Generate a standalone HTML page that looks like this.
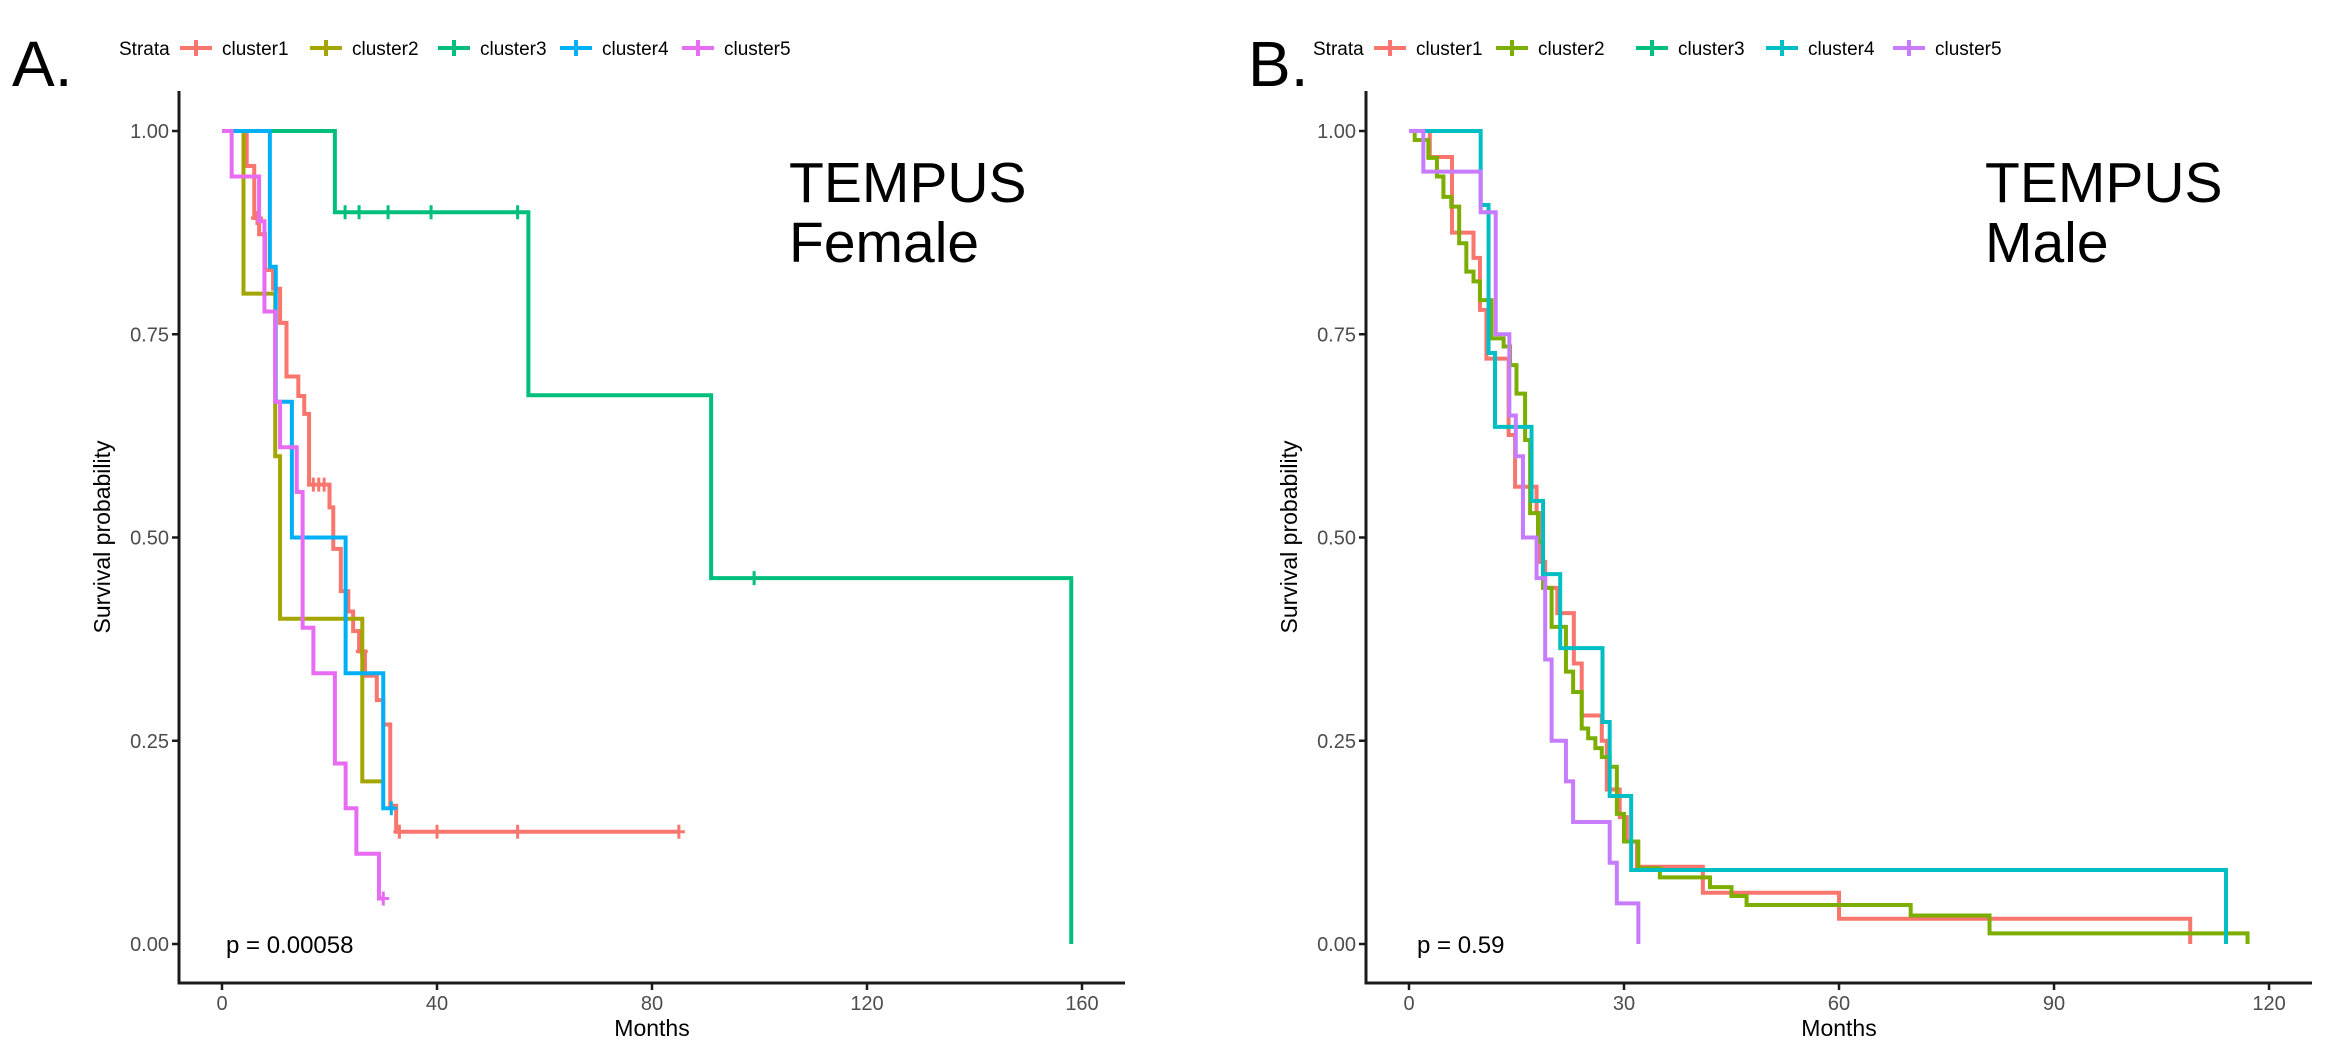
<!DOCTYPE html>
<html><head><meta charset="utf-8"><style>
html,body{margin:0;padding:0;background:#fff;}
svg{display:block;font-family:"Liberation Sans",Arial,sans-serif;}
</style></head><body>
<svg id="chart" width="2331" height="1055" viewBox="0 0 2331 1055"></svg>
<script>
// ---- Panel A data (Female) ----
const aTicksX = [0, 40, 80, 120, 160];
const aC1T = [0,4.6,6,6.9,8,9.5,10.8,12,14.2,15.3,16.2,20,20.7,22.1,23.5,24.4,25.5,26.6,28.8,30,31.3,32.4];
const aC1S = [1,.957,.893,.873,.829,.806,.764,.698,.674,.652,.565,.537,.486,.434,.409,.385,.36,.33,.30,.27,.17,.138];
const aC1Cens = [6.5,17,18,19,26,33,40,55,85];
const aC2T = [0,4,9.9,10.8,26.1];
const aC2S = [1,.8,.6,.4,.2];
const aC2Cens = [];
const aC3T = [0,21,57,91,158];
const aC3S = [1,.9,.675,.45,0];
const aC3Cens = [22.9,25.5,30.9,38.9,55,99];
const aC4T = [0,8.9,10,13,23,30];
const aC4S = [1,.833,.667,.5,.333,.167];
const aC4Cens = [31.5];
const aC5T = [0,1.8,6.9,7.9,9.9,10.8,13.9,15,17,21,23,25,29.2];
const aC5S = [1,.944,.889,.778,.667,.611,.556,.389,.333,.222,.167,.111,.056];
const aC5Cens = [30];
const aEnds = [85, 30, 158, 32, 30];
// ---- Panel B data (Male) ----
const bTicksX = [0, 30, 60, 90, 120];
const bC1T = [0,2.9,6,9,9.9,10.8,13.9,14.8,17.8,18.3,19,20.7,23,24.1,26.9,27.6,29.4,30.4,31.8,41,60,109];
const bC1S = [1,.968,.875,.844,.78,.72,.626,.5625,.53,.47,.438,.407,.345,.281,.25,.19,.156,.126,.095,.063,.031,0];
const bC2T = [0,.8,2.7,3.9,4.8,5.9,7,8,9,9.9,11.5,13.2,14.1,15,16.2,16.9,18,18.7,19.9,21.9,22.9,24.1,25,26,26.9,28,29,30,32,35,42,45,47.1,70,81,117];
const bC2S = [1,.989,.967,.944,.919,.907,.862,.827,.815,.792,.745,.735,.712,.677,.62,.53,.495,.438,.39,.335,.31,.265,.253,.241,.23,.218,.16,.126,.093,.082,.07,.059,.048,.035,.013,0];
const bC4T = [0,10,11.1,12,17.1,18.7,21.1,27,28,31,114];
const bC4S = [1,.909,.727,.636,.545,.455,.364,.273,.182,.091,0];
const bC5T = [0,2,10,12.1,14,14.9,15.9,17.8,19,19.9,21.9,22.9,28,29,32];
const bC5S = [1,.95,.9,.75,.65,.6,.5,.45,.35,.25,.2,.15,.1,.05,0];
const bEnds = [109, 117, 114, 32];
const yTicks = [0, 0.25, 0.5, 0.75, 1];
const yTickLabels = ["0.00","0.25","0.50","0.75","1.00"];
const legendLabels = ["cluster1","cluster2","cluster3","cluster4","cluster5"];

const NS = "http://www.w3.org/2000/svg";
const svg = document.getElementById("chart");
function mk(tag, attrs, parent, text){
  const e = document.createElementNS(NS, tag);
  for (const k in attrs) e.setAttribute(k, attrs[k]);
  if (text !== undefined) e.textContent = text;
  (parent||svg).appendChild(e);
  return e;
}
const yPix = v => 944 - 813 * v;

function stepAt(T, S, t){ let v = S[0]; for (let i=0;i<T.length;i++){ if (T[i] <= t) v = S[i]; } return v; }

function panel(cfg){
  const g = mk("g", {});
  
  
  const xPix = t => cfg.x0 + t * cfg.kx;
  const ya = mk("line", {x1:cfg.axX, y1:91, x2:cfg.axX, y2:984.5, stroke:"#1a1a1a","stroke-width":3}, g);
   
  const xa = mk("line", {x1:cfg.axX-1.5, y1:983, x2:cfg.axEnd, y2:983, stroke:"#1a1a1a","stroke-width":3}, g);
   
  yTicks.forEach((v,i)=>{
    mk("line",{x1:cfg.axX-7,y1:yPix(v),x2:cfg.axX,y2:yPix(v),stroke:"#1a1a1a","stroke-width":2.5},g);
    const t = mk("text",{x:cfg.axX-10,y:yPix(v)+7,"text-anchor":"end","font-size":20,fill:"#4d4d4d"},g,yTickLabels[i]);
     
  });
  cfg.ticks.forEach(v=>{
    mk("line",{x1:xPix(v),y1:983,x2:xPix(v),y2:990,stroke:"#1a1a1a","stroke-width":2.5},g);
    const t = mk("text",{x:xPix(v),y:1010,"text-anchor":"middle","font-size":20,fill:"#4d4d4d"},g,String(v));
     
  });
  const xt = mk("text",{x:(cfg.axX+cfg.axEnd)/2,y:1036,"text-anchor":"middle","font-size":23,fill:"#000"},g,"Months");
   
  const yt = mk("text",{x:0,y:0,"text-anchor":"middle","font-size":23,fill:"#000",transform:`translate(${cfg.ytX},537) rotate(-90)`},g,"Survival probability");
   
  cfg.series.forEach(s=>{
    let d = `M${xPix(s.T[0])},${yPix(s.S[0])}`;
    for (let i=1;i<s.T.length;i++){ d += ` H${xPix(s.T[i])} V${yPix(s.S[i])}`; }
    d += ` H${xPix(s.end)}`;
    const p = mk("path",{d:d,fill:"none",stroke:s.color,"stroke-width":4,"stroke-linejoin":"miter"},g);
     
    (s.cens||[]).forEach(c=>{
      const cx = xPix(c), cy = yPix(stepAt(s.T,s.S,c));
      const m = mk("path",{d:`M${cx-6},${cy} H${cx+6} M${cx},${cy-7} V${cy+7}`,stroke:s.color,"stroke-width":3,fill:"none"},g);
       
    });
  });
  const l1 = mk("text",{x:cfg.tempX,y:202,"font-size":57,fill:"#000"},g,"TEMPUS");
   
  const l2 = mk("text",{x:cfg.tempX,y:262,"font-size":57,fill:"#000"},g,cfg.sex);
   
  const pv = mk("text",{x:cfg.pX,y:953,"font-size":24,fill:"#000"},g,cfg.pText);
   
  const pl = mk("text",{x:cfg.letterX,y:86,"font-size":64,fill:"#000"},g,cfg.letter);
   
  const lg = mk("g",{},g);
   
  mk("text",{x:cfg.strataX,y:55,"font-size":19,fill:"#000"},lg,"Strata");
  legendLabels.forEach((lab,i)=>{
    const kx = cfg.legKeys[i];
    const e = mk("g",{},lg);
     
    mk("path",{d:`M${kx},48 H${kx+32} M${kx+16},40 V56`,stroke:cfg.legColors[i],"stroke-width":4,fill:"none"},e);
    mk("text",{x:kx+42,y:55,"font-size":19,fill:"#000"},e,lab);
  });
}

const colA = ["#F8766D","#A3A500","#00BF7D","#00B0F6","#E76BF3"];
const colB = ["#F8766D","#7CAE00","#00BF7D","#00BFC4","#C77CFF"];
panel({name:"panel-a", x0:222, kx:5.375, axX:179, axEnd:1125, ytX:110, ticks:aTicksX,
  tempX:789, sex:"Female", pX:226, pText:"p = 0.00058", letter:"A.", letterX:12, strataX:119,
  legKeys:[180,310,438,560,682], legColors:colA,
  series:[
    {label:"cluster1",T:aC1T,S:aC1S,cens:aC1Cens,end:aEnds[0],color:colA[0]},
    {label:"cluster2",T:aC2T,S:aC2S,cens:aC2Cens,end:aEnds[1],color:colA[1]},
    {label:"cluster3",T:aC3T,S:aC3S,cens:aC3Cens,end:aEnds[2],color:colA[2]},
    {label:"cluster4",T:aC4T,S:aC4S,cens:aC4Cens,end:aEnds[3],color:colA[3]},
    {label:"cluster5",T:aC5T,S:aC5S,cens:aC5Cens,end:aEnds[4],color:colA[4]}
  ]});
panel({name:"panel-b", x0:1409, kx:7.167, axX:1366, axEnd:2312, ytX:1297, ticks:bTicksX,
  tempX:1985, sex:"Male", pX:1417, pText:"p = 0.59", letter:"B.", letterX:1248, strataX:1313,
  legKeys:[1374,1496,1636,1766,1893], legColors:colB,
  series:[
    {label:"cluster1",T:bC1T,S:bC1S,cens:[],end:bEnds[0],color:colB[0]},
    {label:"cluster2",T:bC2T,S:bC2S,cens:[],end:bEnds[1],color:colB[1]},
    {label:"cluster4",T:bC4T,S:bC4S,cens:[],end:bEnds[2],color:colB[3]},
    {label:"cluster5",T:bC5T,S:bC5S,cens:[],end:bEnds[3],color:colB[4]}
  ]});
</script>
</body></html>
